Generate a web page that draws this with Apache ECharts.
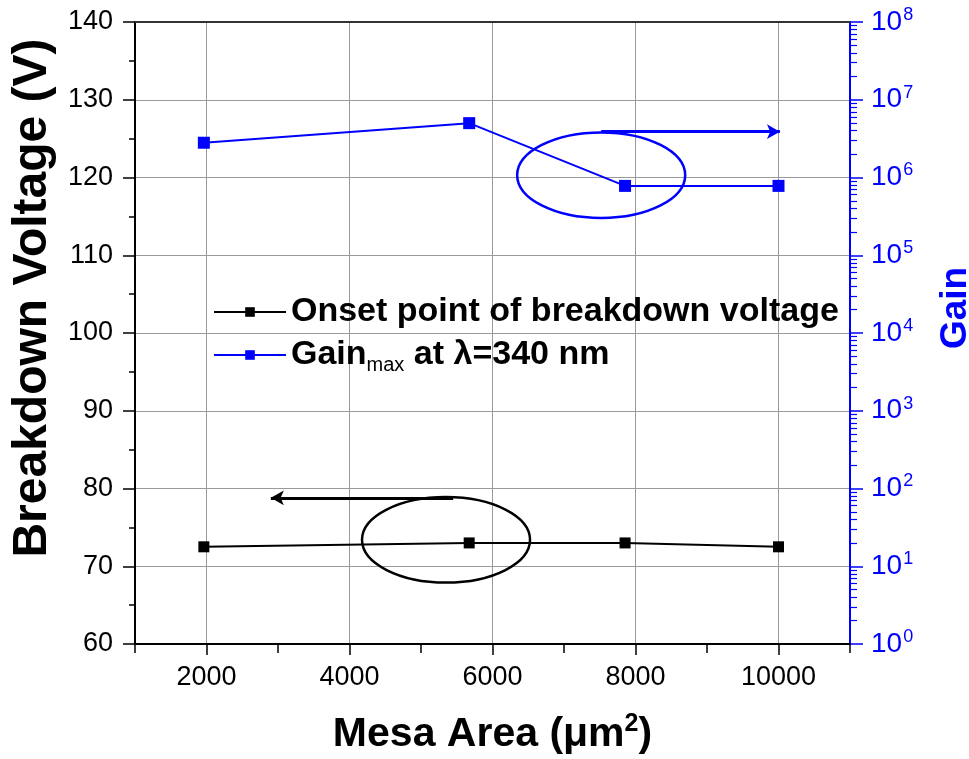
<!DOCTYPE html>
<html>
<head>
<meta charset="utf-8">
<script src="https://cdn.jsdelivr.net/npm/echarts@6/dist/echarts.min.js"></script>
<style>
  html, body { margin: 0; padding: 0; background: #fff; }
  #chart { width: 969px; height: 759px; }
</style>
</head>
<body>
<div id="chart"></div>
<script>
/* ---- data ---- */
const mesaArea = [1963, 5674, 7854, 10000];            // µm²
const onsetVoltage = [72.5, 73, 73, 72.5];             // V
const gainMax = [2.8e6, 5e6, 7.8e5, 7.8e5];            // gain at 340 nm
const xTicks = [2000, 4000, 6000, 8000, 10000];        // labelled x ticks

// annotation ellipses: [centre x, centre V, half-width (µm²), half-height (V), colour]
const ellipses = [
  [5350, 73.4, 1175, 5.5, "#000"],
  [7520, 120.3, 1175, 5.5, "#0000ff"],
];
// annotation arrows: [from x, to x, level V, colour]
const arrows = [
  [5450, 2900, 78.8, "#000"],
  [7520, 10020, 125.9, "#0000ff"],
];

const FONT = "Liberation Sans, Arial, sans-serif";
const BLUE = "#0000ff";
const GRID = "#9a9a9a";

const chart = echarts.init(document.getElementById("chart"), null, { renderer: "canvas" });

const sup = { fontSize: 18, fontFamily: FONT, verticalAlign: "top", padding: [0, 0, 14, 1] };

chart.setOption({
  animation: false,
  backgroundColor: "#fff",
  textStyle: { fontFamily: FONT },
  grid: { left: 135, right: 119, top: 22, bottom: 115, containLabel: false, outerBoundsMode: "none" },
  legend: {
    orient: "vertical",
    left: 208,
    top: 290,
    itemWidth: 72,
    itemHeight: 12,
    itemGap: 9,
    textStyle: {
      fontSize: 34, fontWeight: "bold", color: "#000", fontFamily: FONT,
      rich: {
        sub: { fontSize: 20, fontWeight: "normal", fontFamily: FONT, verticalAlign: "bottom", padding: [20, 0, 0, 0] },
      },
    },
    formatter: (n) => n === "Gain" ? "Gain{sub|max} at λ=340 nm" : n,
    data: ["Onset point of breakdown voltage", "Gain"],
  },
  xAxis: [
    {
      type: "value", min: 1000, max: 11000,
      name: "Mesa Area (μm{s|2})", nameLocation: "middle", nameGap: 68,
      nameTextStyle: {
        fontSize: 41, fontWeight: "bold", color: "#000", fontFamily: FONT,
        rich: { s: { fontSize: 25, fontWeight: "bold", fontFamily: FONT, verticalAlign: "top", padding: [0, 0, 20, 0] } },
      },
      axisLine: { lineStyle: { color: "#000", width: 2 } },
      axisTick: { show: true, inside: false, length: 11, customValues: xTicks, lineStyle: { color: "#000", width: 1.5 } },
      axisLabel: { fontSize: 27, color: "#000", margin: 20, customValues: xTicks, formatter: (v) => String(v) },
      splitLine: { show: true, lineStyle: { color: GRID, width: 1 } },
    },
    {
      // top frame line
      type: "value", min: 1000, max: 11000, position: "top",
      axisLine: { show: true, lineStyle: { color: "#333", width: 2 } },
      axisTick: { show: false }, axisLabel: { show: false }, splitLine: { show: false },
    },
    {
      // unlabelled ticks at the odd thousands (1000 + n*2000)
      type: "value", min: 1000, max: 11000, interval: 2000, position: "bottom",
      axisLine: { show: false },
      axisTick: { show: true, inside: false, length: 9, lineStyle: { color: "#000", width: 1.5 } },
      axisLabel: { show: false }, splitLine: { show: false },
    },
  ],
  yAxis: [
    {
      type: "value", min: 60, max: 140, interval: 10, position: "left",
      name: "Breakdown Voltage (V)", nameLocation: "middle", nameGap: 77, nameRotate: 90,
      nameTextStyle: { fontSize: 48, fontWeight: "bold", color: "#000", fontFamily: FONT, padding: [0, 0, 0, 70] },
      axisLine: { show: true, lineStyle: { color: "#000", width: 2 } },
      axisTick: { show: true, inside: false, length: 12, lineStyle: { color: "#000", width: 1.5 } },
      minorTick: { show: true, splitNumber: 2, length: 6, lineStyle: { color: "#000", width: 1.5 } },
      axisLabel: { fontSize: 27, color: "#000", margin: 22 },
      splitLine: { show: true, lineStyle: { color: GRID, width: 1 } },
    },
    {
      type: "log", logBase: 10, min: 1, max: 1e8, position: "right",
      name: "Gain", nameLocation: "middle", nameGap: 87, nameRotate: 90,
      nameTextStyle: { fontSize: 37, fontWeight: "bold", color: BLUE, fontFamily: FONT, padding: [0, 0, 0, 50] },
      axisLine: { show: true, lineStyle: { color: BLUE, width: 2 } },
      axisTick: { show: true, inside: false, length: 13, lineStyle: { color: BLUE, width: 1.5 } },
      minorTick: { show: true, splitNumber: 9, length: 7, lineStyle: { color: BLUE, width: 1.2 } },
      axisLabel: {
        color: BLUE, margin: 21, fontSize: 28,
        formatter: (v) => "10{sup|" + Math.round(Math.log10(v)) + "}",
        rich: { sup: Object.assign({ color: BLUE }, sup) },
      },
      splitLine: { show: false },
    },
  ],
  series: [
    {
      name: "Onset point of breakdown voltage",
      type: "line",
      xAxisIndex: 0, yAxisIndex: 0,
      data: mesaArea.map((x, i) => [x, onsetVoltage[i]]),
      symbol: "rect", symbolSize: 11,
      itemStyle: { color: "#000" },
      lineStyle: { color: "#000", width: 2 },
      markLine: {
        silent: true, symbol: ["none", "arrow"], symbolSize: [11, 13],
        label: { show: false },
        data: arrows.map(([x0, x1, y, c]) => [
          { coord: [x0, y], lineStyle: { color: c, width: 3, type: "solid" }, itemStyle: { color: c } },
          { coord: [x1, y] },
        ]),
      },
    },
    {
      name: "Gain",
      type: "line",
      xAxisIndex: 0, yAxisIndex: 1,
      data: mesaArea.map((x, i) => [x, gainMax[i]]),
      symbol: "rect", symbolSize: 12,
      itemStyle: { color: BLUE },
      lineStyle: { color: BLUE, width: 2 },
    },
    {
      type: "custom",
      xAxisIndex: 0, yAxisIndex: 0,
      silent: true,
      data: ellipses,
      renderItem: (params, api) => {
        const e = ellipses[params.dataIndex];
        const c = api.coord([e[0], e[1]]);
        const s = api.size([e[2], e[3]]);
        return {
          type: "ellipse",
          shape: { cx: c[0], cy: c[1], rx: s[0], ry: s[1] },
          style: { fill: "none", stroke: e[4], lineWidth: 2.5 },
        };
      },
    },
  ],
});
</script>
</body>
</html>
